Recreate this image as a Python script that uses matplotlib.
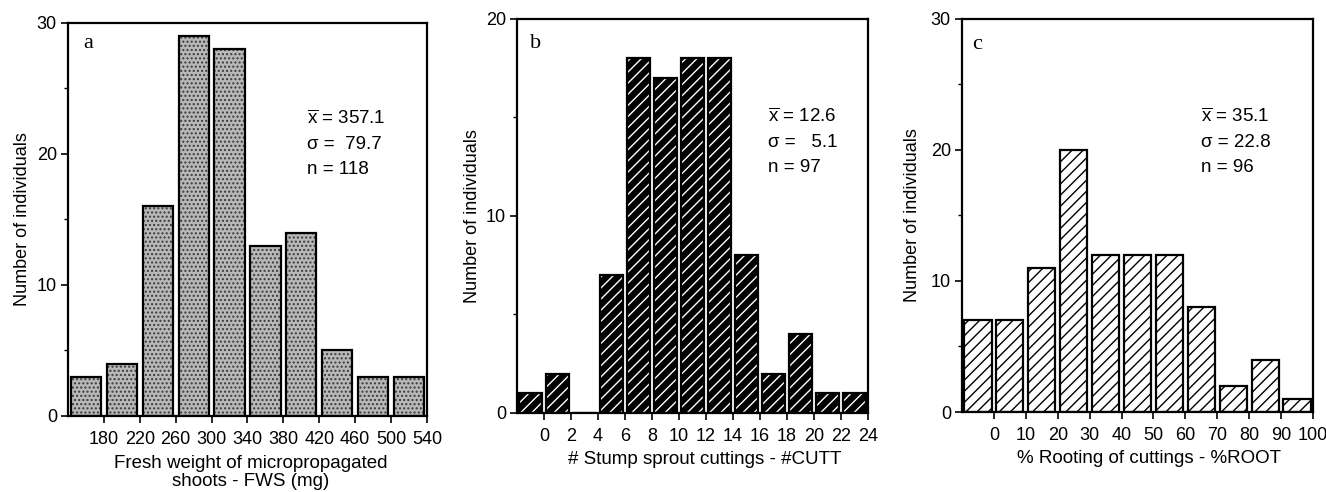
import matplotlib
matplotlib.use("Agg")
import matplotlib.pyplot as plt
from matplotlib.ticker import MultipleLocator

plt.rcParams["font.family"] = ["Liberation Sans", "DejaVu Sans"]
plt.rcParams["mathtext.fontset"] = "custom"
plt.rcParams["mathtext.rm"] = "Liberation Sans"
plt.rcParams["mathtext.it"] = "Liberation Sans"
plt.rcParams["hatch.linewidth"] = 1.0

# panel a - fresh weight of shoots
fws_edges = [140, 180, 220, 260, 300, 340, 380, 420, 460, 500, 540]
fws_counts = [3, 4, 16, 29, 28, 13, 14, 5, 3, 3]

# panel b - stump sprout cuttings
cutt_edges = [-2, 0, 2, 4, 6, 8, 10, 12, 14, 16, 18, 20, 22, 24]
cutt_counts = [1, 2, 0, 7, 18, 17, 18, 18, 8, 2, 4, 1, 1]

# panel c - rooting of cuttings
root_edges = [-10, 0, 10, 20, 30, 40, 50, 60, 70, 80, 90, 100]
root_counts = [7, 7, 11, 20, 12, 12, 12, 8, 2, 4, 1]

stats_a = [r"$\overline{\mathrm{x}}$ = 357.1", "σ =  79.7", "n = 118"]
stats_b = [r"$\overline{\mathrm{x}}$ = 12.6", "σ =   5.1", "n = 97"]
stats_c = [r"$\overline{\mathrm{x}}$ = 35.1", "σ = 22.8", "n = 96"]

fig = plt.figure(figsize=(13.26, 4.92), dpi=100)
ax_a = fig.add_axes([0.0513, 0.1545, 0.2707, 0.7988])
ax_b = fig.add_axes([0.3899, 0.1606, 0.2647, 0.8008])
ax_c = fig.add_axes([0.7255, 0.1626, 0.2647, 0.7988])


def draw_hist(ax, edges, counts, face, hatch_col, hatch, frac):
    lefts = edges[:-1]
    w = edges[1] - edges[0]
    centers = [e + w / 2 for e in lefts]
    ax.bar(centers, counts, width=w * frac, color=face, edgecolor=hatch_col,
           hatch=hatch, linewidth=0)
    ax.bar(centers, counts, width=w * frac, fill=False, edgecolor="black",
           linewidth=1.6)
    ax.set_xlim(edges[0], edges[-1])
    ax.set_xticks(edges[1:])
    ax.set_xticklabels([str(e) for e in edges[1:]])


draw_hist(ax_a, fws_edges, fws_counts, "#b8b8b8", "#3a3a3a", "....", 0.84)
draw_hist(ax_b, cutt_edges, cutt_counts, "black", "white", "///", 0.84)
draw_hist(ax_c, root_edges, root_counts, "white", "black", "///", 0.85)

panels = [(ax_a, 30, "a", 0.042, 0.936),
          (ax_b, 20, "b", 0.037, 0.926),
          (ax_c, 30, "c", 0.03, 0.924)]
for ax, top, letter, lx, ly in panels:
    ax.set_ylim(0, top)
    ax.set_yticks(range(0, top + 1, 10))
    ax.yaxis.set_minor_locator(MultipleLocator(5))
    ax.tick_params(axis="both", direction="out", length=5, width=1.2,
                   labelsize=13, pad=3)
    ax.tick_params(axis="x", pad=6)
    ax.tick_params(axis="y", which="minor", length=3, width=1)
    for s in ax.spines.values():
        s.set_linewidth(1.6)
    ax.set_ylabel("Number of individuals", fontsize=13, va="center")
    ax.text(lx, ly, letter, transform=ax.transAxes, fontsize=16,
            family="Liberation Serif", va="baseline", ha="left")

ax_a.yaxis.set_label_coords(-0.128, 0.5)
ax_b.yaxis.set_label_coords(-0.128, 0.5)
ax_c.yaxis.set_label_coords(-0.142, 0.5)

ax_a.text(0.665, 0.78, "\n".join(stats_a), transform=ax_a.transAxes,
          fontsize=13.5, va="top", ha="left", linespacing=1.62)
ax_b.text(0.715, 0.775, "\n".join(stats_b), transform=ax_b.transAxes,
          fontsize=13.5, va="top", ha="left", linespacing=1.62)
ax_c.text(0.68, 0.775, "\n".join(stats_c), transform=ax_c.transAxes,
          fontsize=13.5, va="top", ha="left", linespacing=1.62)

ax_a.set_xlabel("Fresh weight of micropropagated\nshoots - FWS (mg)",
                fontsize=13.5, linespacing=1.1, va="center")
ax_b.set_xlabel("# Stump sprout cuttings - #CUTT", fontsize=13.5,
                va="center")
ax_c.set_xlabel("% Rooting of cuttings - %ROOT", fontsize=13.5, va="center")
ax_a.xaxis.set_label_coords(0.51, -0.144)
ax_b.xaxis.set_label_coords(0.536, -0.119)
ax_c.xaxis.set_label_coords(0.533, -0.119)

fig.savefig("out.png", dpi=100)
